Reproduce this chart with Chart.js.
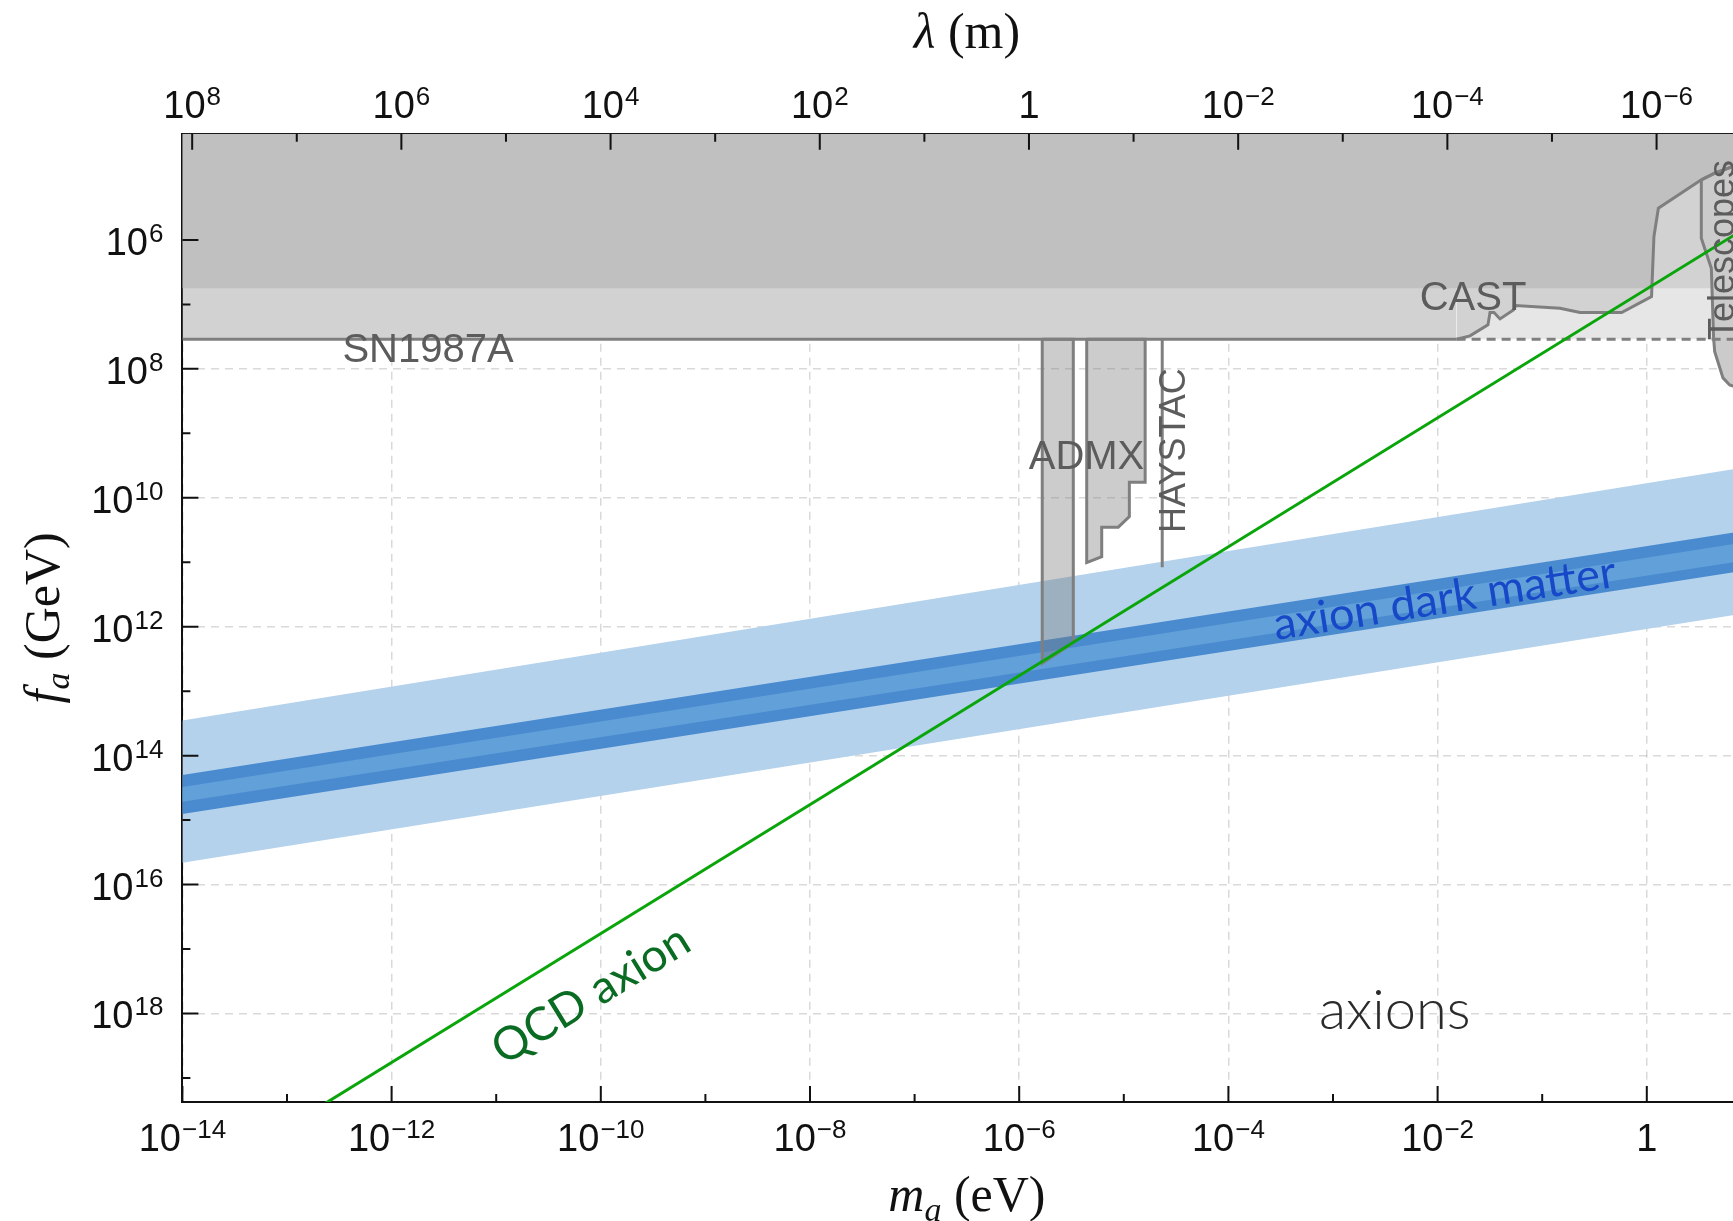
<!DOCTYPE html>
<html>
<head>
<meta charset="utf-8">
<script src="https://cdn.jsdelivr.net/npm/chart.js@4.4.1/dist/chart.umd.min.js"></script>
<style>
  html, body { margin: 0; padding: 0; background: #fff; overflow: hidden; }
  #wrap { width: 1760px; height: 1221px; }
</style>
</head>
<body>
<div id="wrap"><canvas id="myChart" width="1760" height="1221"></canvas></div>
<script>
// tick decades
const massExponents = [-14, -13, -12, -11, -10, -9, -8, -7, -6, -5, -4, -3, -2, -1, 0, 1];
const faExponents = [6, 7, 8, 9, 10, 11, 12, 13, 14, 15, 16, 17, 18, 19];
const lambdaExponents = [8, 7, 6, 5, 4, 3, 2, 1, 0, -1, -2, -3, -4, -5, -6];
const hcEvMetre = 1.24e-6; // lambda = hc / m

// QCD axion line
const qcdMass = [1e-14, 10];
const qcdFa = [5.75e20, 5.75e5];

// axion dark matter bands (outer, inner, core)
const bandMass = [1e-14, 10];
const outerTop = [2.86e13, 3.24e9];
const outerBottom = [4.57e15, 5.96e11];
const innerTop = [2.0e14, 3.12e10];
const innerBottom = [8.04e14, 1.29e11];
const coreTop = [3.06e14, 4.74e10];
const coreBottom = [5.18e14, 9.10e10];

// SN1987A and the upper grey band
const snFa = 3.48e7;
const snMass = [1e-14, 1.52e-2, 10];
const darkBandFa = 5.6e6;
const darkBandEnd = 1.12;

// CAST
const castMass = [1.52e-2, 2.04e-2, 3.03e-2, 3.17e-2, 3.46e-2, 3.95e-2, 5.30e-2, 5.57e-2, 0.148, 0.230, 0.575, 1.11, 1.17, 1.29, 3.32, 4.46, 10];
const castFa = [3.48e7, 3.08e7, 2.08e7, 1.34e7, 1.34e7, 1.68e7, 1.22e7, 1.04e7, 1.15e7, 1.34e7, 1.34e7, 7.59e6, 8.89e5, 3.22e5, 1.17e5, 9.2e4, 5.7e4];

// Telescopes
const telescopeMass = [3.32, 4.46, 10, 10, 6.2, 5.35, 4.46, 4.35, 4.14, 3.32, 3.32];
const telescopeFa = [1.17e5, 9.2e4, 5.7e4, 2.3e8, 1.78e8, 1.38e8, 5.4e7, 3.31e7, 2.75e6, 9.4e5, 1.17e5];

// haloscopes
const admxLowMass = [1.66e-6, 3.29e-6, 3.29e-6, 1.66e-6, 1.66e-6];
const admxLowFa = [3.48e7, 3.48e7, 1.77e12, 3.69e12, 3.48e7];
const admxHighMass = [4.42e-6, 4.42e-6, 6.15e-6, 6.15e-6, 8.85e-6, 1.13e-5, 1.13e-5, 1.60e-5, 1.60e-5, 4.42e-6];
const admxHighFa = [3.48e7, 1.01e11, 8.18e10, 2.86e10, 2.86e10, 1.96e10, 5.74e9, 5.74e9, 3.48e7, 3.48e7];
const haystacMass = [2.33e-5, 2.33e-5];
const haystacFa = [3.48e7, 1.2e11];

const grey = '#7f7f7f';
const labelGrey = '#5c5c5c';

const pts = (xs, ys) => xs.map((x, i) => ({x: x, y: ys[i]}));
const bandPolygon = (top, bottom) => {
    const upper = pts(bandMass, top);
    const lower = pts(bandMass, bottom).reverse();
    return upper.concat(lower, [upper[0]]);
};
const castPts = pts(castMass, castFa);
const darkBand = [{x: 1e-14, y: darkBandFa}, {x: darkBandEnd, y: darkBandFa}].concat(castPts.filter(p => p.y < darkBandFa));

const line = (data, extra) => Object.assign({
    data: data, pointRadius: 0, borderWidth: 0, borderColor: 'transparent', fill: false, tension: 0
}, extra);

const datasets = [
    line(pts(qcdMass, qcdFa), {label: 'QCD axion', borderColor: '#0aa50a', borderWidth: 3, order: 1}),
    line(castPts, {label: 'CAST', borderColor: grey, borderWidth: 3, order: 2}),
    line(pts(snMass.slice(0, 2), [snFa, snFa]), {label: 'SN1987A', borderColor: grey, borderWidth: 3, order: 2}),
    line(pts(snMass.slice(1), [snFa, snFa]), {label: 'SN1987A (dashed)', borderColor: grey, borderWidth: 3, borderDash: [9, 6], order: 2}),
    line(pts(haystacMass, haystacFa), {label: 'HAYSTAC', borderColor: grey, borderWidth: 3, order: 2}),
    line(pts(admxLowMass, admxLowFa), {label: 'ADMX', fill: 'shape', backgroundColor: 'rgba(120,120,120,0.38)', borderColor: grey, borderWidth: 3, order: 3}),
    line(pts(admxHighMass, admxHighFa), {label: 'ADMX 2', fill: 'shape', backgroundColor: 'rgba(120,120,120,0.38)', borderColor: grey, borderWidth: 3, order: 3}),
    line(pts(telescopeMass, telescopeFa), {label: 'Telescopes', fill: 'shape', backgroundColor: '#cbcbcb', borderColor: grey, borderWidth: 3, order: 4}),
    line(darkBand, {label: 'stars', fill: 'end', backgroundColor: '#c0c0c0', order: 5}),
    line(castPts, {label: 'CAST fill', fill: 'end', backgroundColor: '#d2d2d2', order: 6}),
    line(pts([snMass[0], snMass[2]], [darkBandFa, darkBandFa]), {label: 'band fill', fill: 'end', backgroundColor: '#d2d2d2', order: 6}),
    line(pts(snMass.slice(1), [snFa, snFa]), {label: 'SN fill right', fill: 'end', backgroundColor: '#e6e6e6', order: 7}),
    line(pts(snMass.slice(0, 2), [snFa, snFa]), {label: 'SN fill', fill: 'end', backgroundColor: '#d2d2d2', order: 8}),
    line(bandPolygon(coreTop, coreBottom), {label: 'DM core', fill: 'shape', backgroundColor: '#62a0d9', order: 9}),
    line(bandPolygon(innerTop, innerBottom), {label: 'DM inner', fill: 'shape', backgroundColor: '#4a8bd0', order: 10}),
    line(bandPolygon(outerTop, outerBottom), {label: 'DM outer', fill: 'shape', backgroundColor: '#b4d2ec', order: 11})
];

const notes = [
    {text: 'SN1987A', m: 2.23e-12, f: 5.2e7, font: '40px "Liberation Sans"', color: labelGrey},
    {text: 'CAST', m: 2.18e-2, f: 8.2e6, font: '40px "Liberation Sans"', color: labelGrey},
    {text: 'ADMX', m: 4.4e-6, f: 2.4e9, font: '40px "Liberation Sans"', color: labelGrey},
    {text: 'HAYSTAC', m: 3.09e-5, f: 1.85e9, font: '36px "Liberation Sans"', color: labelGrey, angle: -Math.PI / 2},
    {text: 'Telescopes', m: 5.47, f: 1.43e6, font: '36px "Liberation Sans"', color: labelGrey, angle: -Math.PI / 2},
    {text: 'axions', m: 3.9e-3, f: 9.1e17, font: '300 56px Lato', color: '#2b2b2b'},
    {text: 'axion dark matter', m: 1.17e-2, f: 3.7e11, font: '45px Lato', color: '#1748c8', along: [bandMass, innerTop]},
    {text: 'QCD axion', m: 8.05e-11, f: 5.16e17, font: '46px Lato', color: '#0a6b22', along: [qcdMass, qcdFa]}
];

const expOf = v => Math.round(Math.log10(v));
// label text for a decade tick: [base, superscript]
const powParts = v => {
    const e = expOf(v);
    if (e % 2 !== 0) return null;
    if (e === 0) return ['1', ''];
    return ['10', String(e).replace('-', '\u2212')];
};
const powLabel = v => {
    const p = powParts(v);
    return p ? p[0] + (p[1] ? '^' + p[1] : '') : '';
};
const gridColor = ctx => (ctx.tick && expOf(ctx.tick.value) % 2 === 0) ? 'rgba(0,0,0,0.15)' : 'transparent';
const baseFont = '38px "Liberation Sans", Arial, sans-serif';
const supFont = '26px "Liberation Sans", Arial, sans-serif';

const innerTicks = {
    id: 'innerTicks',
    afterDraw(chart) {
        const {ctx, chartArea: a, scales} = chart;
        const len = v => expOf(v) % 2 === 0 ? 16 : 8;
        ctx.save();
        ctx.strokeStyle = '#111';
        ctx.lineWidth = 2;
        ctx.beginPath();
        scales.x.ticks.forEach(t => {
            const px = scales.x.getPixelForValue(t.value);
            ctx.moveTo(px, a.bottom); ctx.lineTo(px, a.bottom - len(t.value));
        });
        scales.x2.ticks.forEach(t => {
            const px = scales.x2.getPixelForValue(t.value);
            ctx.moveTo(px, a.top); ctx.lineTo(px, a.top + len(t.value));
        });
        scales.y.ticks.forEach(t => {
            const py = scales.y.getPixelForValue(t.value);
            ctx.moveTo(a.left, py); ctx.lineTo(a.left + len(t.value), py);
        });
        ctx.stroke();
        ctx.restore();
    }
};

// tick labels with real superscripts, placed from the scales' own ticks
const tickLabels = {
    id: 'tickLabels',
    afterDraw(chart) {
        const {ctx, chartArea: a, scales} = chart;
        ctx.save();
        ctx.fillStyle = '#111';
        ctx.textBaseline = 'alphabetic';
        ctx.textAlign = 'left';
        const draw = (parts, x, y, align) => {
            ctx.font = baseFont;
            const w1 = ctx.measureText(parts[0]).width;
            ctx.font = supFont;
            const w2 = parts[1] ? ctx.measureText(parts[1]).width + 1 : 0;
            const total = w1 + w2;
            const x0 = align === 'right' ? x - total : x - total / 2;
            ctx.font = baseFont;
            ctx.fillText(parts[0], x0, y);
            if (parts[1]) {
                ctx.font = supFont;
                ctx.fillText(parts[1], x0 + w1 + 1, y - 13);
            }
        };
        scales.x.ticks.forEach(t => {
            const p = powParts(t.value);
            if (p) draw(p, scales.x.getPixelForValue(t.value), a.bottom + 48.5, 'center');
        });
        scales.x2.ticks.forEach(t => {
            const p = powParts(t.value);
            if (p) draw(p, scales.x2.getPixelForValue(t.value), a.top - 15.4, 'center');
        });
        scales.y.ticks.forEach(t => {
            const p = powParts(t.value);
            if (p) draw(p, a.left - 19, scales.y.getPixelForValue(t.value) + 15, 'right');
        });
        ctx.restore();
    }
};

const noteLabels = {
    id: 'noteLabels',
    afterDraw(chart) {
        const {ctx, scales: {x, y}} = chart;
        notes.forEach(n => {
            let angle = n.angle || 0;
            if (n.along) {
                const [xs, ys] = n.along;
                const x1 = x.getPixelForValue(xs[0]), y1 = y.getPixelForValue(ys[0]);
                const x2 = x.getPixelForValue(xs[1]), y2 = y.getPixelForValue(ys[1]);
                angle = Math.atan2(y2 - y1, x2 - x1);
            }
            ctx.save();
            ctx.translate(x.getPixelForValue(n.m), y.getPixelForValue(n.f));
            ctx.rotate(angle);
            ctx.font = n.font;
            ctx.fillStyle = n.color;
            ctx.textAlign = 'center';
            ctx.textBaseline = 'middle';
            ctx.fillText(n.text, 0, 0);
            ctx.restore();
        });
    }
};

function drawParts(ctx, parts) {
    const widths = parts.map(p => { ctx.font = p.font; return ctx.measureText(p.t).width; });
    let cx = -widths.reduce((s, w) => s + w, 0) / 2;
    parts.forEach((p, i) => {
        ctx.font = p.font;
        ctx.fillText(p.t, cx, p.dy || 0);
        cx += widths[i];
    });
}

const axisTitles = {
    id: 'axisTitles',
    afterDraw(chart) {
        const {ctx, chartArea: a} = chart;
        const it = 'italic 50px "Liberation Serif", serif';
        const up = '50px "Liberation Serif", serif';
        const sub = 'italic 34px "Liberation Serif", serif';
        const cx = (a.left + a.right) / 2;
        ctx.save();
        ctx.fillStyle = '#111';
        ctx.textAlign = 'left';
        ctx.textBaseline = 'alphabetic';
        ctx.save();
        ctx.translate(cx, 48);
        drawParts(ctx, [{t: '\u03BB', font: it}, {t: ' (m)', font: up}]);
        ctx.restore();
        ctx.save();
        ctx.translate(cx, 1211);
        drawParts(ctx, [{t: 'm', font: it}, {t: 'a', font: sub, dy: 10}, {t: ' (eV)', font: up}]);
        ctx.restore();
        ctx.save();
        ctx.translate(59, (a.top + a.bottom) / 2);
        ctx.rotate(-Math.PI / 2);
        drawParts(ctx, [{t: 'f', font: it}, {t: 'a', font: sub, dy: 10}, {t: ' (GeV)', font: up}]);
        ctx.restore();
        ctx.restore();
    }
};

const ctx = document.getElementById('myChart').getContext('2d');
const chart = new Chart(ctx, {
    type: 'line',
    data: {datasets: datasets},
    options: {
        responsive: false,
        devicePixelRatio: 1,
        animation: false,
        events: [],
        layout: {padding: {left: 0, right: 8.6, top: 0, bottom: 0}},
        plugins: {legend: {display: false}, tooltip: {enabled: false}},
        scales: {
            x: {
                type: 'logarithmic',
                position: 'bottom',
                min: 1e-14,
                max: 10,
                z: 1,
                afterBuildTicks: s => { s.ticks = massExponents.map(e => ({value: Math.pow(10, e)})); },
                afterFit: s => { s.height = 119; },
                ticks: {display: false, autoSkip: false, callback: v => powLabel(v)},
                grid: {drawTicks: false, color: gridColor, lineWidth: 1.5, borderDash: [8, 6]},
                border: {display: true, color: '#111', width: 2, dash: [8, 6]}
            },
            x2: {
                type: 'logarithmic',
                position: 'top',
                reverse: true,
                min: hcEvMetre / 10,
                max: hcEvMetre / 1e-14,
                z: 1,
                afterBuildTicks: s => { s.ticks = lambdaExponents.map(e => ({value: Math.pow(10, e)})); },
                afterFit: s => { s.height = 133.7; },
                ticks: {display: false, autoSkip: false, callback: v => powLabel(v)},
                grid: {display: false, drawTicks: false},
                border: {display: true, color: '#111', width: 2}
            },
            y: {
                type: 'logarithmic',
                position: 'left',
                reverse: true,
                min: 2.25e4,
                max: 2.36e19,
                z: 1,
                afterBuildTicks: s => { s.ticks = faExponents.map(e => ({value: Math.pow(10, e)})); },
                afterFit: s => { s.width = 182.4; },
                ticks: {display: false, autoSkip: false, callback: v => powLabel(v)},
                grid: {drawTicks: false, color: gridColor, lineWidth: 1.5, borderDash: [8, 6]},
                border: {display: true, color: '#111', width: 2, dash: [8, 6]}
            }
        }
    },
    plugins: [innerTicks, tickLabels, noteLabels, axisTitles]
});
</script>
</body>
</html>
